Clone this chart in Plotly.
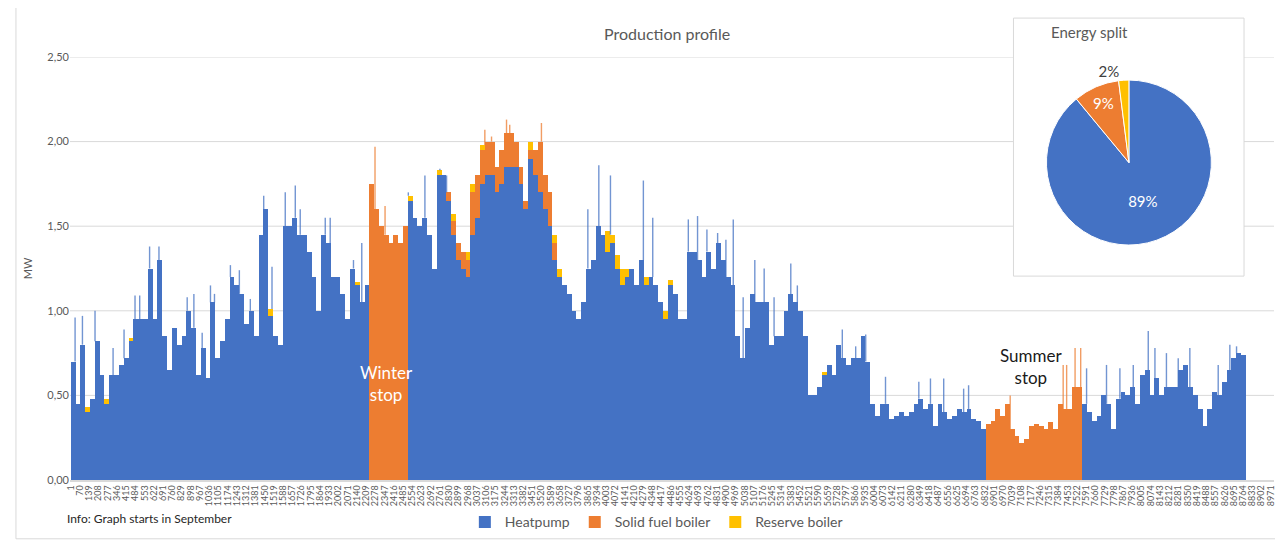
import plotly.graph_objects as go

# ---------------- data (36-hour bins) ----------------
bin_hours = 36

heatpump = [
    0.70, 0.45, 0.80, 0.40, 0.48, 0.82, 0.62, 0.45, 0.62, 0.62,
    0.68, 0.72, 0.82, 0.95, 0.95, 0.95, 1.25, 0.95, 1.30, 0.85,
    0.65, 0.90, 0.80, 0.85, 1.00, 0.90, 0.62, 0.78, 0.60, 1.05,
    0.72, 0.82, 0.95, 1.20, 1.15, 1.10, 0.92, 1.00, 0.85, 1.45,
    1.60,
    0.97, 0.85, 0.80, 1.50, 1.50, 1.55, 1.45, 1.45, 1.35, 1.20,
    1.00, 1.45, 1.40, 1.20, 1.20, 1.10, 0.95, 1.25, 1.15, 1.05,
    1.15,
    0, 0, 0, 0, 0, 0, 0, 0,
    1.65, 1.55, 1.50, 1.55, 1.45, 1.25, 1.80, 1.80, 1.65, 1.45, 1.30, 1.25,
    1.20, 1.45, 1.55, 1.75, 1.80, 1.80, 1.70, 1.75, 1.85, 1.85,
    1.85, 1.75, 1.60, 1.90, 1.80, 1.70, 1.60, 1.50, 1.30, 1.20,
    1.15, 1.10, 1.00, 0.95, 1.05, 1.25, 1.30, 1.50, 1.45, 1.35,
    1.40, 1.25, 1.15, 1.20, 1.25, 1.15, 1.30, 1.15, 1.20, 1.15,
    1.05, 0.95,
    1.15, 1.10, 0.95, 0.95, 1.35, 1.35, 1.30, 1.20, 1.35, 1.25,
    1.40, 1.30, 1.20, 1.15, 0.85, 0.72, 0.90, 1.10, 1.05, 1.05,
    1.05, 0.80, 0.85, 0.85, 1.00, 1.10, 1.05, 1.00, 0.85, 0.50,
    0.50, 0.55, 0.62, 0.68, 0.62, 0.80, 0.72, 0.68, 0.72, 0.72,
    0.85,
    0.70, 0.45, 0.38, 0.45, 0.45, 0.36, 0.38, 0.40, 0.38, 0.40,
    0.45, 0.48, 0.42, 0.45, 0.32, 0.45, 0.40, 0.36, 0.38, 0.42,
    0.40, 0.42, 0.36, 0.35, 0.30,
    0, 0, 0, 0, 0, 0, 0, 0, 0, 0,
    0, 0, 0, 0, 0, 0, 0, 0, 0, 0,
    0.45, 0.40, 0.35, 0.38, 0.50, 0.45, 0.30, 0.48, 0.52, 0.50,
    0.55, 0.45, 0.62, 0.65, 0.50, 0.60, 0.50, 0.55, 0.55, 0.55,
    0.65, 0.68, 0.55, 0.50, 0.42, 0.32, 0.42, 0.52, 0.50, 0.58,
    0.65, 0.72, 0.75, 0.74,
]

solid_fuel_bins = [62, 63, 64, 65, 66, 67, 68, 69,
                   78, 79, 80, 81, 82, 83, 84, 85, 86, 87, 88, 89, 90, 91, 92, 93,
                   94, 95, 96, 97, 98, 99, 100,
                   190, 191, 192, 193, 194, 195, 196, 197, 198, 199, 200, 201, 202,
                   203, 204, 205, 206, 207, 208, 209]
solid_fuel_vals = [1.75, 1.60, 1.50, 1.45, 1.40, 1.45, 1.40, 1.50,
                   0.05, 0.08, 0.10, 0.10, 0.10, 0.25, 0.25, 0.20, 0.20, 0.20, 0.15, 0.20,
                   0.20, 0.20, 0.15, 0.10, 0.05, 0.05, 0.15, 0.30, 0.20, 0.20, 0.10,
                   0.33, 0.35, 0.42, 0.38, 0.45, 0.30, 0.26, 0.22, 0.24, 0.32, 0.33, 0.32,
                   0.30, 0.34, 0.30, 0.45, 0.42, 0.42, 0.55, 0.55]

reserve_bins = [3, 7, 12, 41, 59, 70, 76, 79, 82, 83, 85, 95, 100, 101,
                111, 112, 113, 114, 115, 119, 123, 124, 156]
reserve_vals = [0.03, 0.03, 0.02, 0.04, 0.02, 0.03, 0.03, 0.04, 0.05, 0.05, 0.03,
                0.05, 0.05, 0.05, 0.12, 0.05, 0.08, 0.10, 0.05, 0.05, 0.05, 0.03, 0.02]

# single-hour peaks that stick out above the bins (hour, MW)
heatpump_peak_hours = [33, 88, 182, 317, 399, 481, 516, 590, 660, 871, 921, 983, 1045,
                       1075, 1194, 1261, 1343, 1443, 1505, 1604, 1679, 1716, 1903, 1940,
                       2114, 2176, 2524, 2648, 2760, 2810, 3866, 3948, 4035, 4281, 4351,
                       4617, 4686, 4756, 4836, 4898, 4953, 5027, 5114, 5184, 5258, 5383,
                       5432, 5768, 5868, 5943, 6091, 6340, 6427, 6526, 6675, 6712, 7594,
                       7743, 7843, 7943, 8055, 8105, 8191, 8279, 8366, 8578, 8665, 8715]
heatpump_peak_vals = [0.96, 0.97, 1.00, 0.78, 0.89, 1.09, 1.09, 1.38, 1.38, 1.08, 1.10,
                      0.87, 1.15, 1.10, 1.27, 1.24, 1.07, 1.68, 1.26, 1.70, 1.74, 1.60,
                      1.55, 1.55, 1.30, 1.40, 1.70, 1.80, 1.84, 1.80, 1.60, 1.86, 1.80,
                      1.77, 1.55, 1.54, 1.56, 1.48, 1.46, 1.42, 1.54, 1.08, 1.30, 1.25,
                      1.08, 1.28, 1.15, 0.89, 0.79, 0.86, 0.61, 0.58, 0.60, 0.60, 0.54,
                      0.56, 0.66, 0.68, 0.66, 0.68, 0.88, 0.78, 0.75, 0.72, 0.78, 0.68,
                      0.80, 0.79]
solid_fuel_peak_hours = [2275, 2350, 3096, 3146, 3258, 3282, 3444, 3519, 7023, 7419,
                         7445, 7508, 7550]
solid_fuel_peak_vals = [1.97, 1.62, 2.07, 2.03, 2.13, 2.10, 2.00, 2.11, 0.50, 0.68,
                        0.68, 0.78, 0.78]

tick_labels = [str(v) for v in range(1, 8972, 69)]

pie_labels = ["Heatpump", "Solid fuel boiler", "Reserve boiler"]
pie_values = [89, 9, 2]

# ---------------- build ----------------
BLUE, ORANGE, YELLOW = "#4472C4", "#ED7D31", "#FFC000"
GREY_TXT = "#595959"
GRID = "#d9d9d9"
FONT = "Lato"

n = len(heatpump)
x = [bin_hours * i + bin_hours / 2 + 0.5 for i in range(n)]
solid = [0.0] * n
for b, v in zip(solid_fuel_bins, solid_fuel_vals):
    solid[b] = v
reserve = [0.0] * n
for b, v in zip(reserve_bins, reserve_vals):
    reserve[b] = v
total = [h + s + r for h, s, r in zip(heatpump, solid, reserve)]

fig = go.Figure()
for name, vals, col in [("Heatpump", heatpump, BLUE),
                        ("Solid fuel boiler", solid, ORANGE),
                        ("Reserve boiler", reserve, YELLOW)]:
    fig.add_trace(go.Bar(x=x, y=vals, name=name, width=bin_hours,
                         marker=dict(color=col, line=dict(width=0))))


def peak_segments(hours, vals):
    sx, sy = [], []
    for h, v in zip(hours, vals):
        b = min(int((h - 1) // bin_hours), n - 1)
        if v > total[b]:
            sx += [h, h, None]
            sy += [total[b], v, None]
    return sx, sy


for hours, vals, col in [(heatpump_peak_hours, heatpump_peak_vals, BLUE),
                         (solid_fuel_peak_hours, solid_fuel_peak_vals, ORANGE)]:
    sx, sy = peak_segments(hours, vals)
    fig.add_trace(go.Scatter(x=sx, y=sy, mode="lines", line=dict(color=col, width=1.4),
                             opacity=0.75, showlegend=False, hoverinfo="skip"))

fig.add_trace(go.Pie(
    labels=pie_labels, values=pie_values, sort=False, direction="clockwise",
    rotation=0, marker=dict(colors=[BLUE, ORANGE, YELLOW], line=dict(color="white", width=1)),
    textinfo="percent", texttemplate="%{percent:.0%}",
    textposition=["inside", "inside", "outside"],
    insidetextfont=dict(color="white", size=15, family=FONT),
    outsidetextfont=dict(color="#404040", size=15, family=FONT),
    insidetextorientation="horizontal",
    domain=dict(x=[0.8110, 0.9480], y=[0.5550, 0.9460]),
    showlegend=False, hoverinfo="label+percent",
))

shapes = []
for g in [0.5, 1.0, 1.5, 2.0, 2.5]:
    shapes.append(dict(type="line", xref="paper", x0=0, x1=1, yref="y", y0=g, y1=g,
                       line=dict(color=GRID, width=1), layer="below"))
# pie chart box
shapes.append(dict(type="rect", xref="paper", yref="paper", x0=0.7836, x1=0.9751,
                   y0=0.482, y1=1.092, fillcolor="white", line=dict(color=GRID, width=1),
                   layer="below"))
# outer chart border
shapes.append(dict(type="rect", xref="paper", yref="paper", x0=-0.0449, x1=1.0033,
                   y0=-0.139, y1=1.1176, line=dict(color=GRID, width=1), layer="below"))

annotations = [
    dict(text="Production profile", xref="paper", yref="paper", x=0.496, y=1.0565,
         yanchor="middle", showarrow=False, font=dict(size=16, color=GREY_TXT, family=FONT)),
    dict(text="Energy split", xref="paper", yref="paper", x=0.8804, y=1.0588,
         yanchor="middle", showarrow=False, font=dict(size=15, color=GREY_TXT, family=FONT)),
    dict(text="Info: Graph starts in September", xref="paper", yref="paper", x=-0.004,
         y=-0.092, xanchor="left", yanchor="middle", showarrow=False,
         font=dict(size=12, color="#262626", family=FONT)),
    dict(text="Winter<br>stop", x=2360, y=0.57, xref="x", yref="y", showarrow=False,
         font=dict(size=17, color="white", family=FONT)),
    dict(text="Summer<br>stop", x=7177, y=0.67, xref="x", yref="y", showarrow=False,
         font=dict(size=17, color="#1a1a1a", family=FONT)),
]

# the page adds an 8 px body margin, so the margins below compensate for it
fig.update_layout(
    width=1283, height=542,
    margin=dict(l=62, r=17, t=49, b=68),
    paper_bgcolor="white", plot_bgcolor="white",
    barmode="stack", bargap=0,
    separators=", ",
    font=dict(family=FONT, color=GREY_TXT),
    shapes=shapes, annotations=annotations,
    legend=dict(orientation="h", x=0.487, xanchor="center", y=-0.10, yanchor="middle",
                font=dict(size=14, color=GREY_TXT, family=FONT), traceorder="normal",
                itemwidth=30),
    xaxis=dict(range=[-5, 8995], tickmode="array",
               tickvals=[int(t) for t in tick_labels], ticktext=tick_labels,
               tickangle=-90, tickfont=dict(size=9, color=GREY_TXT, family=FONT),
               showgrid=False, zeroline=False, showline=True, linecolor=GRID,
               linewidth=1.5, ticks=""),
    yaxis=dict(range=[0, 2.5], dtick=0.5, tick0=0, tickformat=".2f", showgrid=False,
               zeroline=False, ticks="", tickfont=dict(size=11, color=GREY_TXT, family=FONT),
               title=dict(text="MW", font=dict(size=11, color=GREY_TXT, family=FONT),
                          standoff=12)),
)

fig.write_html("out.html")
